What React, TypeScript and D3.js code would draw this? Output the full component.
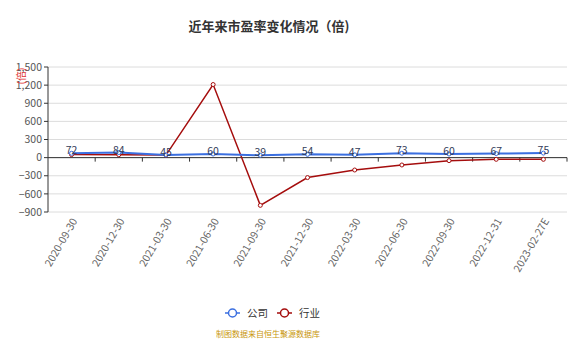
import React from "react";
import * as d3 from "d3";

const categories = ["2020-09-30","2020-12-30","2021-03-30","2021-06-30","2021-09-30","2021-12-30","2022-03-30","2022-06-30","2022-09-30","2022-12-31","2023-02-27E"];
const companyValues = [72, 84, 45, 60, 39, 54, 47, 73, 60, 67, 75];
const industryValues = [50, 48, 42, 1210, -790, -330, -205, -122, -50, -28, -28];
const yTicks = [-900, -600, -300, 0, 300, 600, 900, 1200, 1500];

const W = 577, H = 353;
const left = 48, right = 567, top = 67, bottom = 212;

export default function App() {
  const x = d3.scaleBand<string>().domain(categories).range([left, right]);
  const y = d3.scaleLinear().domain([-900, 1500]).range([bottom, top]);
  const cx = (c: string) => (x(c) as number) + x.bandwidth() / 2;
  const lineGen = d3.line<number>().x((_, i) => cx(categories[i])).y((v) => y(v));
  const fmt = d3.format(",");
  const blue = "#3b6fe0";
  const red = "#a50d0d";
  return (
    <div style={{ margin: -8 }}>
      <svg width={W} height={H} style={{ display: "block", fontFamily: "'Microsoft YaHei','Noto Sans CJK SC',sans-serif" }}>
        <rect width={W} height={H} fill="#fff" />
        <text x={269} y={31} textAnchor="middle" fontSize={13} fontWeight="bold" fill="#333">近年来市盈率变化情况（倍)</text>
        {yTicks.map((t) => (
          <g key={t}>
            <line x1={left} x2={right} y1={y(t)} y2={y(t)} stroke="#dcdcdc" strokeWidth={1} />
            <line x1={left - 4} x2={left} y1={y(t)} y2={y(t)} stroke="#333" />
            <text x={left - 6} y={y(t)} dy="0.35em" textAnchor="end" fontSize={10.5} fill="#555">{fmt(t)}</text>
          </g>
        ))}
        <line x1={left} x2={left} y1={top} y2={bottom} stroke="#333" />
        <line x1={left} x2={right} y1={y(0)} y2={y(0)} stroke="#333" />
        {categories.map((c, i) => (
          <line key={"tk" + i} x1={(x(c) as number) + x.bandwidth()} x2={(x(c) as number) + x.bandwidth()} y1={y(0)} y2={y(0) + 4} stroke="#333" />
        ))}
        <text transform={`translate(21,76) rotate(-90)`} textAnchor="middle" dy="0.35em" fontSize={10} fill="#e03030">(倍)</text>
        {categories.map((c) => (
          <text key={"xl" + c} transform={`translate(${cx(c) + 3},${bottom + 7}) rotate(-60)`} textAnchor="end" dy="0.35em" fontSize={10.5} fill="#666">{c}</text>
        ))}
        <path d={lineGen(industryValues) || ""} fill="none" stroke={red} strokeWidth={1.5} />
        {industryValues.map((v, i) => (
          <circle key={"ic" + i} cx={cx(categories[i])} cy={y(v)} r={2} fill="#fff" stroke={red} strokeWidth={1} />
        ))}
        <path d={lineGen(companyValues) || ""} fill="none" stroke={blue} strokeWidth={2} />
        {companyValues.map((v, i) => (
          <circle key={"cc" + i} cx={cx(categories[i])} cy={y(v)} r={2} fill="#fff" stroke={blue} strokeWidth={1} />
        ))}
        {companyValues.map((v, i) => (
          <text key={"cl" + i} x={cx(categories[i])} y={y(v) + 1} textAnchor="middle" fontSize={10.5} fill="#333c5a">{v}</text>
        ))}
        <g>
          <line x1={225} x2={240} y1={313} y2={313} stroke={blue} strokeWidth={1.5} />
          <circle cx={232.5} cy={313} r={4} fill="#fff" stroke={blue} strokeWidth={1.5} />
          <text x={247} y={313} dy="0.35em" fontSize={10.5} fill="#333">公司</text>
          <line x1={277} x2={292} y1={313} y2={313} stroke={red} strokeWidth={1.5} />
          <circle cx={284.5} cy={313} r={4} fill="#fff" stroke={red} strokeWidth={1.5} />
          <text x={299} y={313} dy="0.35em" fontSize={10.5} fill="#333">行业</text>
        </g>
        <text x={268} y={334} dy="0.35em" textAnchor="middle" fontSize={8} fill="#c8960a">制图数据来自恒生聚源数据库</text>
      </svg>
    </div>
  );
}
